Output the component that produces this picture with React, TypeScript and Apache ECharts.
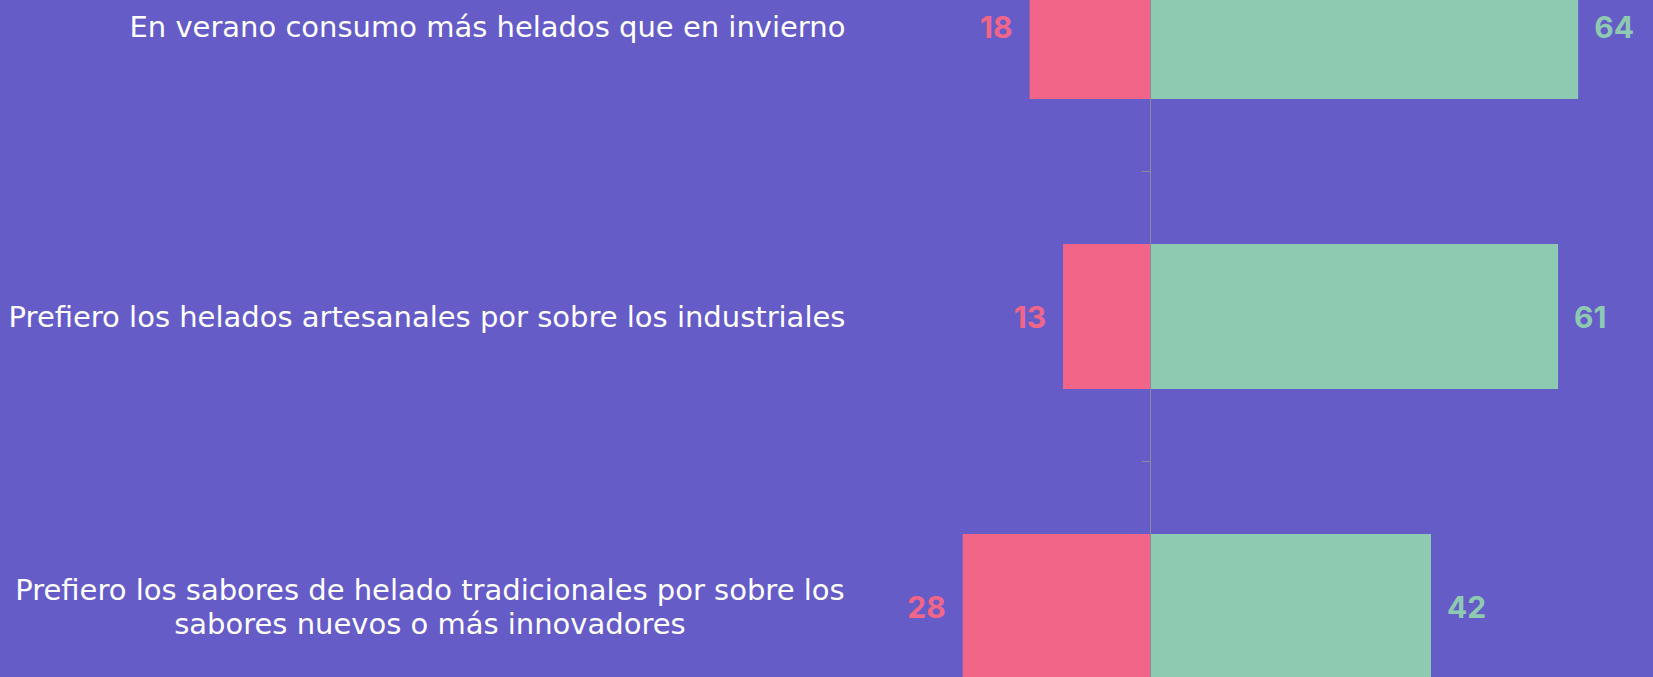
import React, { useEffect, useRef } from "react";
import * as echarts from "echarts";

const categories = [
  "En verano consumo más helados que en invierno",
  "Prefiero los helados artesanales por sobre los industriales",
  "Prefiero los sabores de helado tradicionales por sobre los\nsabores nuevos o más innovadores",
];
const disagreeValues = [18, 13, 28];
const agreeValues = [64, 61, 42];
const xMin = -40;
const xMax = 70;

const BG = "#665cc8";
const PINK = "#f06588";
const GREEN = "#8ecab1";
const LABEL_FONT = "DejaVu Sans";
const VALUE_FONT = "Inter";

export default function App() {
  const ref = useRef<HTMLDivElement>(null);
  useEffect(() => {
    document.body.style.margin = "0";
    const chart = echarts.init(ref.current!, undefined, { renderer: "svg" });
    const labelFont = { fontFamily: LABEL_FONT, fontSize: 29, fontWeight: 400 as any, color: "#ffffff" };
    const valueFont = { fontFamily: VALUE_FONT, fontSize: 30, fontWeight: 700 as any };
    chart.setOption({
      animation: false,
      backgroundColor: BG,
      grid: {
        left: 882.4,
        width: 735.9,
        top: -118.5,
        height: 870,
        containLabel: false,
        outerBoundsMode: "none",
      },
      xAxis: { type: "value", min: xMin, max: xMax, show: false },
      yAxis: {
        type: "category",
        data: categories,
        inverse: true,
        z: 5,
        axisLine: { show: true, onZero: true, lineStyle: { color: "#8a8a9a", width: 1 } },
        axisTick: { show: true, length: 8, lineStyle: { color: "#8a8a9a" } },
        axisLabel: {
          interval: 0,
          margin: 37,
          ...labelFont,
          lineHeight: 34,
          formatter: (v: string) => {
            if (v.indexOf("\n") >= 0) {
              return v
                .split("\n")
                .map((s) => "{c|" + s + "}")
                .join("\n");
            }
            return v;
          },
          rich: {
            c: { ...labelFont, lineHeight: 34, width: 831, align: "center" },
          },
        },
        splitLine: { show: false },
      },
      series: [
        {
          type: "bar",
          name: "No",
          stack: "total",
          barCategoryGap: "50%",
          data: disagreeValues.map((v) => -v),
          itemStyle: { color: PINK },
          label: {
            show: true,
            position: "left",
            distance: 17,
            formatter: (p: any) => String(Math.abs(p.value)),
            color: PINK,
            ...valueFont,
          },
        },
        {
          type: "bar",
          name: "Sí",
          stack: "total",
          barCategoryGap: "50%",
          data: agreeValues,
          itemStyle: { color: GREEN },
          label: {
            show: true,
            position: "right",
            distance: 16,
            color: GREEN,
            ...valueFont,
          },
        },
      ],
    });
    return () => chart.dispose();
  }, []);
  return <div ref={ref} style={{ width: "1653px", height: "677px" }} />;
}
